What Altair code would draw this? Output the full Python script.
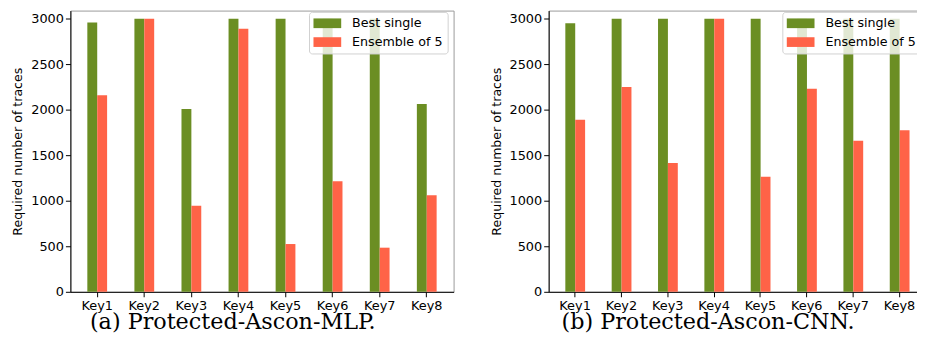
import altair as alt
import pandas as pd

keys = ["Key1", "Key2", "Key3", "Key4", "Key5", "Key6", "Key7", "Key8"]
series = ["Best single", "Ensemble of 5"]
colors = ["#6B8E23", "#FF6347"]

mlp_best = [2960, 3000, 2010, 3000, 3000, 3000, 3000, 2065]
mlp_ens = [2160, 3000, 945, 2890, 525, 1215, 485, 1060]
cnn_best = [2950, 3000, 3000, 3000, 3000, 3000, 3000, 3000]
cnn_ens = [1890, 2250, 1415, 3000, 1265, 2230, 1660, 1775]

captions = ["(a) Protected-Ascon-MLP.", "(b) Protected-Ascon-CNN."]
y_title = "Required number of traces"
y_ticks = [0, 500, 1000, 1500, 2000, 2500, 3000]


def make_df(best, ens):
    rows = []
    for k, b, e in zip(keys, best, ens):
        rows.append({"Key": k, "Series": series[0], "Value": b})
        rows.append({"Key": k, "Series": series[1], "Value": e})
    return pd.DataFrame(rows)


def panel(df, caption, width, legend_x):
    return (
        alt.Chart(
            df,
            title=alt.Title(
                caption,
                orient="bottom",
                anchor="middle",
                frame="bounds",
                font="DejaVu Serif",
                fontSize=22.5,
                fontWeight="normal",
                color="black",
                offset=-1,
            ),
        )
        .mark_bar()
        .encode(
            x=alt.X(
                "Key:N",
                sort=keys,
                scale=alt.Scale(paddingInner=0.58, paddingOuter=0.36),
                axis=alt.Axis(title=None, labelAngle=0, labelPadding=3),
            ),
            xOffset=alt.XOffset(
                "Series:N", sort=series, scale=alt.Scale(paddingInner=0, paddingOuter=0)
            ),
            y=alt.Y(
                "Value:Q",
                scale=alt.Scale(domain=[0, 3090], nice=False),
                axis=alt.Axis(title=y_title, values=y_ticks, grid=False, format="d"),
            ),
            color=alt.Color(
                "Series:N",
                sort=series,
                scale=alt.Scale(domain=series, range=colors),
                legend=alt.Legend(
                    title=None,
                    orient="none",
                    legendX=legend_x,
                    legendY=1.3,
                    symbolType="M-2,-0.7L2,-0.7L2,0.7L-2,0.7Z",
                    symbolSize=196,
                    symbolStrokeWidth=0,
                    symbolOpacity=1,
                    symbolOffset=7,
                    labelOffset=18,
                    rowPadding=5,
                    padding=4.5,
                    fillColor="rgba(255,255,255,0.8)",
                    strokeColor="#d0d0d0",
                    cornerRadius=3,
                    labelFont="DejaVu Sans",
                    labelFontSize=12.8,
                    labelColor="black",
                ),
            ),
        )
        .properties(width=width, height=284)
    )


left = panel(make_df(mlp_best, mlp_ens), captions[0], 387, 241)
right = panel(make_df(cnn_best, cnn_ens), captions[1], 381, 236)

chart = (
    alt.hconcat(left, right, spacing=35)
    .resolve_legend(color="independent")
    .resolve_scale(color="independent")
    .properties(padding={"left": 3, "top": 0, "right": -10, "bottom": 0}, background="white")
    .configure_view(stroke="#9a9a9a", strokeWidth=1)
    .configure_axis(
        domainColor="black",
        tickColor="black",
        labelColor="black",
        titleColor="black",
        tickSize=5,
        labelPadding=2,
        labelFont="DejaVu Sans",
        labelFontSize=13,
        titleFont="DejaVu Sans",
        titleFontSize=12.7,
        titleFontWeight="normal",
        titlePadding=6,
        grid=False,
    )
)

chart.save("out.html", embed_options={"renderer": "svg", "actions": False})
